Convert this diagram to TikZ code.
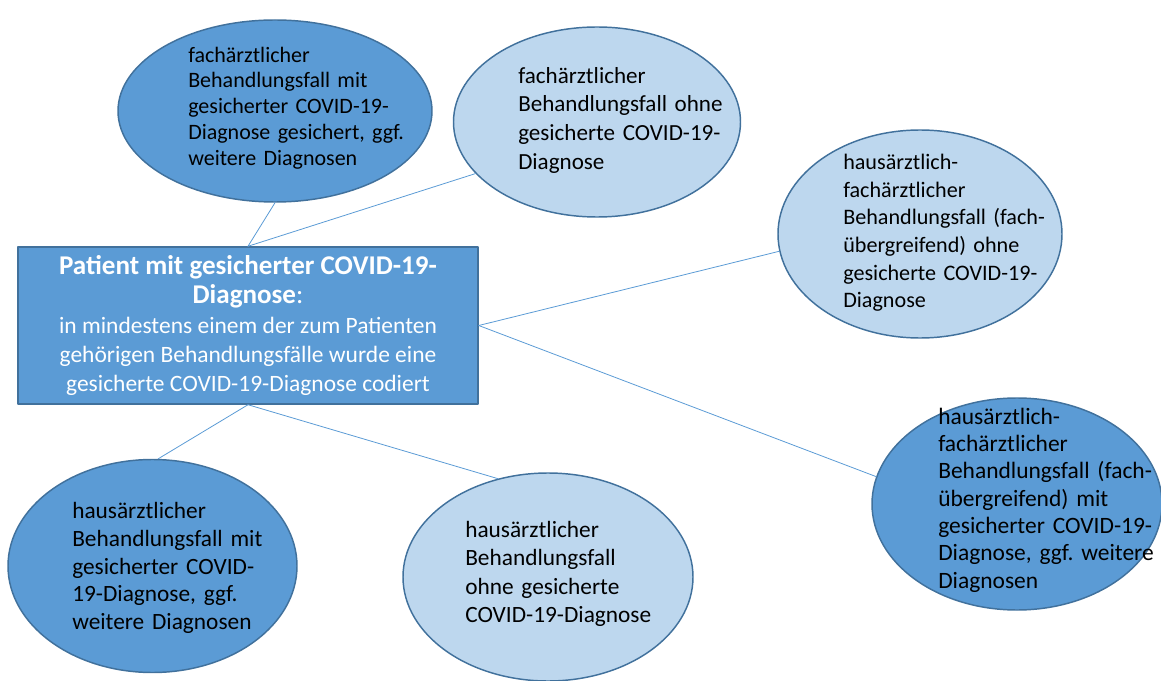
\documentclass[tikz,border=0pt]{standalone}
\usepackage{fontspec}
\setmainfont{Carlito}
\usetikzlibrary{shapes.geometric}
\definecolor{casedark}{HTML}{5B9BD5}
\definecolor{caselight}{HTML}{BDD7EE}
\definecolor{caserim}{HTML}{41719C}
\frenchspacing
\newcommand{\titlefont}{\fontsize{20.3}{22.6}\selectfont\bfseries}

\begin{document}
\begin{tikzpicture}[x=0.75pt,y=-0.75pt,line cap=round,line join=round,
  darkcase/.style={ellipse,draw=caserim,fill=casedark,line width=1.1pt,inner sep=0pt},
  lightcase/.style={ellipse,draw=caserim,fill=caselight,line width=1.1pt,inner sep=0pt},
  casetext/.style={anchor=west,inner sep=0pt,align=left,text width=260*0.75pt},
  link/.style={draw=casedark,line width=0.6pt}]
  \path[use as bounding box] (0,0) rectangle (1161,681);
  % central box
  \node[draw=caserim,fill=casedark,line width=1.1pt,minimum width=460*0.75pt,minimum height=157*0.75pt,
        inner sep=0pt,align=center,text=white,font=\fontsize{17.6}{21.8}\selectfont] (patient) at (248,325.5)
    {\textbf{\titlefont Patient mit gesicherter COVID-19-}\\
     \textbf{\titlefont Diagnose}\textbf{}{\titlefont\mdseries :}\\
     in mindestens einem der zum Patienten\\
     gehörigen Behandlungsfälle wurde eine\\gesicherte COVID-19-Diagnose codiert};
  % the six kinds of cases
  \node[darkcase,minimum width=314*0.75pt,minimum height=182*0.75pt] (caseA) at (275,111) {};
  \node[lightcase,minimum width=287*0.75pt,minimum height=190*0.75pt] (caseB) at (597,122) {};
  \node[lightcase,minimum width=284*0.75pt,minimum height=208*0.75pt] (caseC) at (920,234) {};
  \node[darkcase,minimum width=290*0.75pt,minimum height=212*0.75pt] (caseD) at (1017,504) {};
  \node[darkcase,minimum width=289*0.75pt,minimum height=213*0.75pt] (caseE) at (152.5,566) {};
  \node[lightcase,minimum width=290*0.75pt,minimum height=208*0.75pt] (caseF) at (548,577) {};
  \node[casetext,font=\fontsize{16.5}{19.4}\selectfont] (textA) at (188,108)
    {fachärztlicher\\Behandlungsfall mit\\gesicherter COVID-19-\\Diagnose gesichert, ggf.\\weitere Diagnosen};
  \node[casetext,font=\fontsize{17.3}{21.5}\selectfont] (textB) at (518,120)
    {fachärztlicher\\Behandlungsfall ohne\\gesicherte COVID-19-\\Diagnose};
  \node[casetext,font=\fontsize{16.6}{20.7}\selectfont] (textC) at (843,233)
    {hausärztlich-\\fachärztlicher\\Behandlungsfall (fach-\\übergreifend) ohne\\gesicherte COVID-19-\\Diagnose};
  \node[casetext,font=\fontsize{17.6}{20.5}\selectfont] (textD) at (938,500)
    {hausärztlich-\\fachärztlicher\\Behandlungsfall (fach-\\übergreifend) mit\\gesicherter COVID-19-\\Diagnose, ggf. weitere\\Diagnosen};
  \node[casetext,font=\fontsize{17.5}{20.9}\selectfont] (textE) at (72,568)
    {hausärztlicher\\Behandlungsfall mit\\gesicherter COVID-\\19-Diagnose, ggf.\\weitere Diagnosen};
  \node[casetext,font=\fontsize{17.5}{21.2}\selectfont] (textF) at (465,574)
    {hausärztlicher\\Behandlungsfall\\ohne gesicherte\\COVID-19-Diagnose};
  % connectors
  \draw[link] (patient.north) -- (caseA.south);
  \draw[link] (patient.north) -- (caseB.203);
  \draw[link] (patient.east) -- (caseC.187);
  \draw[link] (patient.east) -- (caseD.169);
  \draw[link] (patient.south) -- (caseE.87);
  \draw[link] (patient.south) -- (caseF.117);
\end{tikzpicture}
\end{document}
